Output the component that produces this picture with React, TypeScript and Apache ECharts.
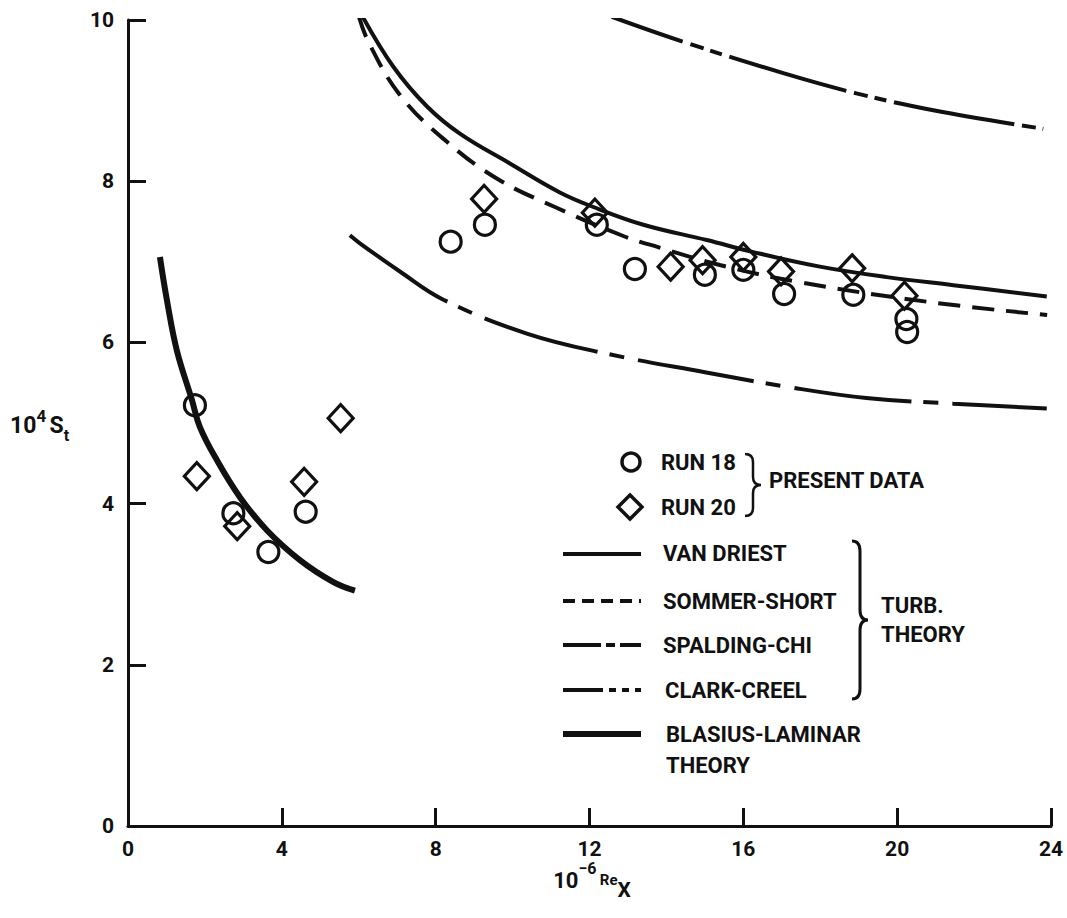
import React, { useEffect, useRef } from "react";
import * as echarts from "echarts";

// ---- data ----
const run18X = [1.74, 2.74, 3.65, 4.62, 8.39, 9.28, 12.19, 13.18, 15.0, 16.0, 17.06, 18.86, 20.24, 20.26];
const run18Y = [5.22, 3.88, 3.4, 3.9, 7.25, 7.46, 7.46, 6.91, 6.84, 6.9, 6.6, 6.59, 6.29, 6.13];

const run20X = [1.79, 2.84, 4.58, 5.53, 9.26, 12.14, 14.11, 14.94, 16.0, 16.98, 18.83, 20.19];
const run20Y = [4.34, 3.72, 4.27, 5.06, 7.78, 7.61, 6.94, 7.02, 7.06, 6.88, 6.92, 6.58];

const vanDriestX = [6.08, 6.9, 7.77, 8.63, 9.93, 11.23, 12.1, 13.4, 15.05, 16.26, 17.99, 19.73, 21.46, 23.89];
const vanDriestY = [10.06, 9.42, 8.93, 8.59, 8.22, 7.86, 7.68, 7.46, 7.27, 7.12, 6.94, 6.81, 6.71, 6.57];

const sommerX = [6.0, 6.25, 7.07, 8.24, 9.6, 11.1, 12.88, 13.8, 15.39, 17.43, 20.85, 23.9];
const sommerY = [10.05, 9.73, 9.07, 8.51, 8.03, 7.68, 7.32, 7.18, 6.96, 6.75, 6.5, 6.34];

const spaldingX = [5.77, 6.03, 7.07, 8.2, 10.37, 12.45, 15.0, 17.13, 19.2, 21.46, 23.89];
const spaldingY = [7.33, 7.23, 6.88, 6.53, 6.11, 5.86, 5.63, 5.45, 5.31, 5.24, 5.18];

const clarkX = [12.58, 14.44, 17.04, 18.94, 20.94, 23.8];
const clarkY = [10.04, 9.73, 9.34, 9.09, 8.88, 8.65];

const blasiusX = [0.83, 1.01, 1.27, 1.66, 1.87, 2.31, 2.91, 3.61, 4.47, 5.33, 5.9];
const blasiusY = [7.06, 6.53, 5.9, 5.29, 4.95, 4.54, 4.08, 3.67, 3.3, 3.03, 2.92];

const xTickValues = [0, 4, 8, 12, 16, 20, 24];
const yTickValues = [0, 2, 4, 6, 8, 10];

const dataLegend = ["RUN 18", "RUN 20"];
const dataGroupLabel = "PRESENT DATA";
const theoryLegend = ["VAN DRIEST", "SOMMER-SHORT", "SPALDING-CHI", "CLARK-CREEL"];
const theoryGroupLabel = ["TURB.", "THEORY"];
const laminarLegend = ["BLASIUS-LAMINAR", "THEORY"];

const INK = "#111111";
const FONT = "Roboto, 'DejaVu Sans', sans-serif";

function braceD(w: number, h: number, r: number) {
  const m = w / 2;
  const c = h / 2;
  return (
    `M0 0 Q${m} 0 ${m} ${r} L${m} ${c - r} Q${m} ${c} ${w} ${c} ` +
    `Q${m} ${c} ${m} ${c + r} L${m} ${h - r} Q${m} ${h} 0 ${h}`
  );
}

let registered = false;
function registerShapes() {
  if (registered) return;
  registered = true;
  echarts.graphic.registerShape("braceSmall", echarts.graphic.extendPath(braceD(16, 62, 8), {}) as any);
  echarts.graphic.registerShape("braceBig", echarts.graphic.extendPath(braceD(16, 158, 10), {}) as any);
}

const pairs = (xs: number[], ys: number[]) => xs.map((x, i) => [x, ys[i]]);

function curve(name: string, xs: number[], ys: number[], type: any, width: number, dashOffset = 0) {
  return {
    name,
    type: "line",
    data: pairs(xs, ys),
    smooth: 0.4,
    symbol: "none",
    silent: true,
    clip: true,
    lineStyle: { color: INK, width, type, dashOffset, opacity: 1 },
    z: 2,
  };
}

export default function App() {
  const ref = useRef<HTMLDivElement>(null);

  useEffect(() => {
    document.body.style.margin = "0";
    registerShapes();
    const chart = echarts.init(ref.current as HTMLDivElement, null, { renderer: "svg" });

    const axisCommon = {
      type: "value",
      axisLine: { show: true, onZero: false, lineStyle: { color: INK, width: 3 } },
      axisTick: { show: true, inside: true, length: 18, lineStyle: { color: INK, width: 3 } },
      splitLine: { show: false },
      axisLabel: {
        color: INK,
        fontSize: 21,
        fontWeight: "bold",
        fontFamily: FONT,
        showMinLabel: true,
        showMaxLabel: true,
      },
    };

    const lgText = (text: string, x: number, y: number, size = 22) => ({
      type: "text",
      x,
      y,
      style: {
        text,
        fill: INK,
        fontSize: size,
        fontWeight: "bold",
        fontFamily: FONT,
        verticalAlign: "middle",
        align: "left",
      },
    });
    const lgLine = (y: number, lineDash: any, width = 4) => ({
      type: "line",
      shape: { x1: 563, y1: y, x2: 641, y2: y },
      style: { stroke: INK, lineWidth: width, lineDash },
    });

    const markerStyle = { color: "rgba(255,255,255,0)", borderColor: INK, borderWidth: 3.2, opacity: 1 };

    const option: any = {
      animation: false,
      backgroundColor: "#ffffff",
      grid: { left: 128, right: 16, top: 20, bottom: 92, outerBoundsMode: "none", containLabel: false },
      xAxis: {
        ...axisCommon,
        min: xTickValues[0],
        max: xTickValues[xTickValues.length - 1],
        interval: xTickValues[1] - xTickValues[0],
        axisLabel: { ...axisCommon.axisLabel, margin: 12 },
      },
      yAxis: {
        ...axisCommon,
        min: yTickValues[0],
        max: yTickValues[yTickValues.length - 1],
        interval: yTickValues[1] - yTickValues[0],
        axisLabel: { ...axisCommon.axisLabel, margin: 14 },
      },
      series: [
        curve("VAN DRIEST", vanDriestX, vanDriestY, "solid", 4),
        curve("SOMMER-SHORT", sommerX, sommerY, [22, 12], 4),
        curve("SPALDING-CHI", spaldingX, spaldingY, [118, 12, 15, 14], 4),
        curve("CLARK-CREEL", clarkX, clarkY, [122, 8, 14, 7, 12, 8], 4, 47),
        curve("BLASIUS-LAMINAR THEORY", blasiusX, blasiusY, "solid", 6),
        {
          name: "RUN 18",
          type: "scatter",
          data: pairs(run18X, run18Y),
          symbol: "circle",
          symbolSize: 21,
          itemStyle: markerStyle,
          emphasis: { disabled: true },
          z: 3,
        },
        {
          name: "RUN 20",
          type: "scatter",
          data: pairs(run20X, run20Y),
          symbol: "diamond",
          symbolSize: [25, 27],
          itemStyle: markerStyle,
          emphasis: { disabled: true },
          z: 3,
        },
      ],
      graphic: [
        // axis names
        {
          type: "text",
          x: 10,
          y: 425,
          style: {
            text: "{a|10}{s|4} {a|S}{b|t}",
            fill: INK,
            verticalAlign: "middle",
            rich: {
              a: { fontSize: 23, fontFamily: FONT, fontWeight: "bold", fill: INK, lineHeight: 36, verticalAlign: "middle" },
              s: { fontSize: 17, fontFamily: FONT, fontWeight: "bold", fill: INK, lineHeight: 36, verticalAlign: "top" },
              b: { fontSize: 16, fontFamily: FONT, fontWeight: "bold", fill: INK, lineHeight: 36, verticalAlign: "bottom" },
            },
          },
        },
        {
          type: "text",
          x: 592,
          y: 880,
          style: {
            text: "{a|10}{s|−6} {r|Re}{b|X}",
            fill: INK,
            align: "center",
            verticalAlign: "middle",
            rich: {
              a: { fontSize: 22, fontFamily: FONT, fontWeight: "bold", fill: INK, lineHeight: 40, verticalAlign: "middle" },
              s: { fontSize: 16, fontFamily: FONT, fontWeight: "bold", fill: INK, lineHeight: 40, verticalAlign: "top" },
              r: { fontSize: 15, fontFamily: FONT, fontWeight: "bold", fill: INK, lineHeight: 40, verticalAlign: "middle" },
              b: { fontSize: 21, fontFamily: FONT, fontWeight: "bold", fill: INK, lineHeight: 40, verticalAlign: "bottom" },
            },
          },
        },
        // data legend
        { type: "circle", shape: { cx: 631, cy: 462, r: 9 }, style: { fill: "none", stroke: INK, lineWidth: 3.5 } },
        {
          type: "polygon",
          shape: { points: [[630, 495], [642, 507], [630, 519], [618, 507]] },
          style: { fill: "none", stroke: INK, lineWidth: 3.5 },
        },
        lgText(dataLegend[0], 661, 462),
        lgText(dataLegend[1], 661, 507),
        { type: "braceSmall", x: 745, y: 454, style: { fill: "none", stroke: INK, lineWidth: 2.5 } },
        lgText(dataGroupLabel, 769, 480),
        // theory legend
        lgLine(554, null),
        lgLine(601, [12, 7]),
        lgLine(645, [38, 5, 9, 5]),
        lgLine(690, [40, 6, 7, 6, 7, 6]),
        lgLine(734, null, 6),
        lgText(theoryLegend[0], 663, 553),
        lgText(theoryLegend[1], 663, 601),
        lgText(theoryLegend[2], 663, 645),
        lgText(theoryLegend[3], 665, 690),
        { type: "braceBig", x: 852, y: 541, style: { fill: "none", stroke: INK, lineWidth: 3 } },
        lgText(theoryGroupLabel[0], 881, 605),
        lgText(theoryGroupLabel[1], 881, 634),
        lgText(laminarLegend[0], 666, 734),
        lgText(laminarLegend[1], 666, 765),
      ],
    };

    chart.setOption(option);
    return () => chart.dispose();
  }, []);

  return <div ref={ref} style={{ width: 1067, height: 918, background: "#fff" }} />;
}
